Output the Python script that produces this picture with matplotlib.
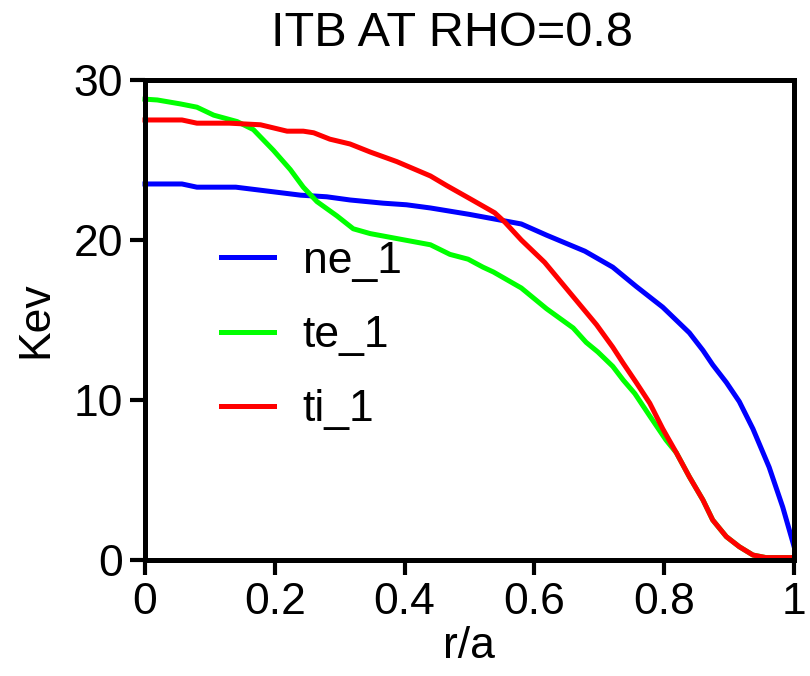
import matplotlib
matplotlib.use("Agg")
from matplotlib import pyplot as plt

plt.rcParams['font.family'] = ['Liberation Sans', 'DejaVu Sans']

# profiles
r_ne = [0, 0.057, 0.08, 0.14, 0.16, 0.2, 0.24, 0.28, 0.316, 0.367, 0.403, 0.44,
        0.5, 0.58, 0.619, 0.678, 0.721, 0.757, 0.798, 0.839, 0.86, 0.875, 0.896,
        0.916, 0.937, 0.962, 0.983, 1.0]
ne_1 = [23.5, 23.5, 23.3, 23.3, 23.2, 23.0, 22.8, 22.7, 22.5, 22.3, 22.2, 22.0,
        21.6, 21.0, 20.3, 19.3, 18.3, 17.1, 15.8, 14.2, 13.1, 12.2, 11.1,
        9.9, 8.2, 5.8, 3.3, 0.9]

r_te = [0, 0.019, 0.055, 0.08, 0.106, 0.142, 0.167, 0.198, 0.224, 0.244, 0.265,
        0.296, 0.321, 0.347, 0.4, 0.44, 0.47, 0.498, 0.521, 0.537, 0.58, 0.619,
        0.66, 0.68, 0.698, 0.721, 0.737, 0.755, 0.778, 0.803, 0.819, 0.839,
        0.86, 0.875, 0.896, 0.916, 0.937, 0.957, 1.0]
te_1 = [28.8, 28.75, 28.5, 28.3, 27.8, 27.4, 26.9, 25.6, 24.4, 23.3, 22.4,
        21.5, 20.7, 20.4, 20.0, 19.7, 19.1, 18.8, 18.3, 18.0, 17.0, 15.7,
        14.5, 13.6, 13.0, 12.1, 11.25, 10.4, 9.0, 7.5, 6.7, 5.2,
        3.75, 2.5, 1.46, 0.83, 0.31, 0.15, 0.15]

r_ti = [0, 0.057, 0.08, 0.13, 0.178, 0.219, 0.244, 0.26, 0.285, 0.316, 0.347,
        0.388, 0.44, 0.465, 0.5, 0.539, 0.555, 0.58, 0.616, 0.657, 0.696, 0.721,
        0.737, 0.757, 0.778, 0.798, 0.819, 0.839, 0.86, 0.875, 0.896, 0.916,
        0.937, 0.957, 1.0]
ti_1 = [27.5, 27.5, 27.3, 27.3, 27.2, 26.8, 26.8, 26.7, 26.3, 26.0, 25.5,
        24.9, 24.0, 23.4, 22.6, 21.7, 21.1, 20.0, 18.6, 16.6, 14.7, 13.3,
        12.3, 11.1, 9.8, 8.2, 6.7, 5.2, 3.75, 2.5, 1.46, 0.83,
        0.31, 0.15, 0.15]

x_ticks = [0, 0.2, 0.4, 0.6, 0.8, 1.0]
x_labels = ['0', '0.2', '0.4', '0.6', '0.8', '1']
y_ticks = [0, 10, 20, 30]

fig = plt.figure(figsize=(8.1, 6.76), dpi=100)
ax = fig.add_axes([0.179, 0.1716, 0.801, 0.7101])

ax.plot(r_ne, ne_1, color='#0000ff', lw=3.6, label='ne_1', clip_on=False)
ax.plot(r_te, te_1, color='#00ff00', lw=3.6, label='te_1', clip_on=False)
ax.plot(r_ti, ti_1, color='#ff0000', lw=3.6, label='ti_1', clip_on=False)

ax.set_xlim(0, 1)
ax.set_ylim(0, 30)
ax.set_xticks(x_ticks)
ax.set_xticklabels(x_labels)
ax.set_yticks(y_ticks)
for s in ax.spines.values():
    s.set_linewidth(3.6)
ax.tick_params(direction='out', length=11, width=3, labelsize=32, pad=5)

ax.set_xlabel('r/a', fontsize=32, labelpad=2)
ax.set_ylabel('Kev', fontsize=32, labelpad=12)
fig.text(0.5586, 0.932, 'ITB AT RHO=0.8', fontsize=35, ha='center', va='baseline')

ax.legend(loc='upper left', bbox_to_anchor=(0.117, 0.665), frameon=False,
          fontsize=32, handlelength=1.19, handletextpad=0.65, labelspacing=0.75,
          borderaxespad=0, borderpad=0)

fig.savefig('out.png', dpi=100)
